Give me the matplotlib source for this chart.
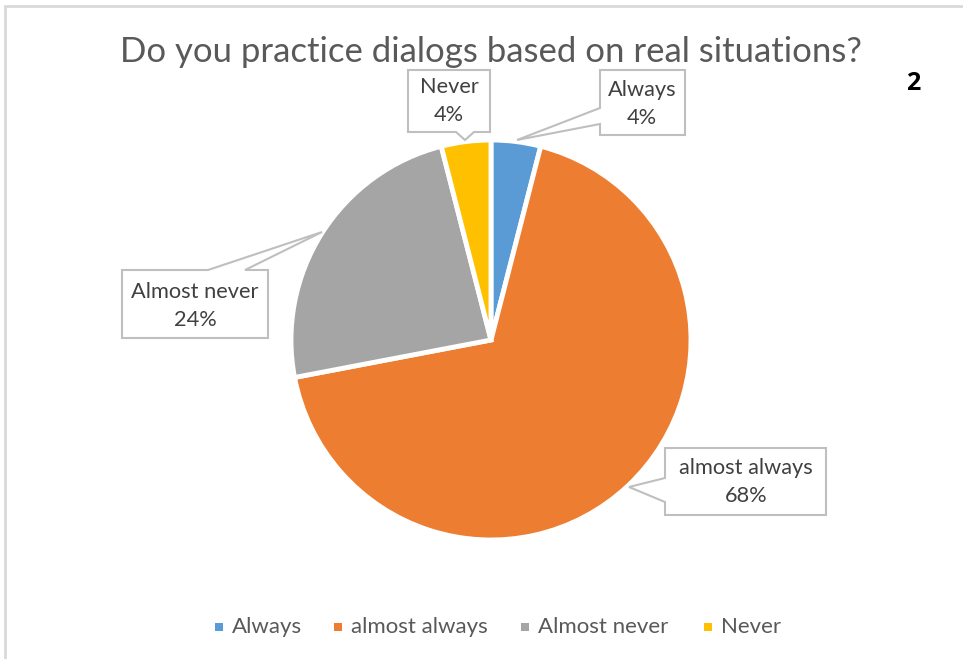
import matplotlib
matplotlib.use("Agg")
import matplotlib.pyplot as plt
from matplotlib.patches import Polygon, Rectangle

categories = ["Always", "almost always", "Almost never", "Never"]
values = [4, 68, 24, 4]
colors = ["#5B9BD5", "#ED7D31", "#A5A5A5", "#FFC000"]
title = "Do you practice dialogs based on real situations?"

W, H = 963, 659
fig = plt.figure(figsize=(W / 100, H / 100), dpi=100)
ax = fig.add_axes([0, 0, 1, 1])
ax.set_xlim(0, W)
ax.set_ylim(0, H)
ax.set_axis_off()

def Y(y):
    return H - y

FONT = "Lato"
TXT = "#404040"

# frame
ax.add_patch(Rectangle((5, Y(H + 10)), W + 20, (H + 10) - 6, fill=False,
                       edgecolor="#D9D9D9", linewidth=2, zorder=0))

# pie
cx, cy, r = 491, 340, 200
ax.pie(values, colors=colors, startangle=90, counterclock=False,
       center=(cx, Y(cy)), radius=r,
       wedgeprops=dict(edgecolor="white", linewidth=3.5))
ax.set_xlim(0, W)
ax.set_ylim(0, H)
ax.set_aspect("auto")

ax.text(491, Y(52), title, ha="center", va="center", fontsize=25,
        color="#595959", family=FONT)
ax.text(913, Y(84), "2", ha="center", va="center", fontsize=18,
        fontweight="bold", color="black", family="Open Sans")

def callout(pts, label, tx, ty):
    poly = Polygon([(x, Y(y)) for x, y in pts], closed=True, facecolor="white",
                   edgecolor="#BFBFBF", linewidth=1.5, zorder=5)
    ax.add_patch(poly)
    ax.text(tx, Y(ty), label, ha="center", va="center", fontsize=15.7,
            color=TXT, family=FONT, linespacing=1.48, zorder=6)

pct = [f"{v}%" for v in values]

# Never (top, pointer down)
callout([(408, 70), (490, 70), (490, 132), (474, 132), (465, 140), (456, 132), (408, 132)],
        f"{categories[3]}\n{pct[3]}", 449, 101)
# Always (pointer to the left)
callout([(600, 70), (685, 70), (685, 135), (600, 135), (600, 124), (517, 140), (600, 108)],
        f"{categories[0]}\n{pct[0]}", 642, 104)
# Almost never (pointer up-right)
callout([(122, 270), (208, 270), (322, 232), (245, 270), (268, 270), (268, 338), (122, 338)],
        f"{categories[2]}\n{pct[2]}", 195, 306)
# almost always (pointer left)
callout([(665, 448), (826, 448), (826, 515), (665, 515), (665, 502), (629, 487), (665, 478)],
        f"{categories[1]}\n{pct[1]}", 746, 482)

# legend (manual layout)
leg_sq_x = [219, 338, 525, 708]
leg_y = 627
for x, c, lab in zip(leg_sq_x, colors, categories):
    ax.add_patch(Rectangle((x - 4, Y(leg_y) - 4), 8, 8, facecolor=c, edgecolor="none"))
    ax.text(x + 13, Y(leg_y), lab, ha="left", va="center", fontsize=16,
            color="#595959", family=FONT)

fig.savefig("out.png", dpi=100)
